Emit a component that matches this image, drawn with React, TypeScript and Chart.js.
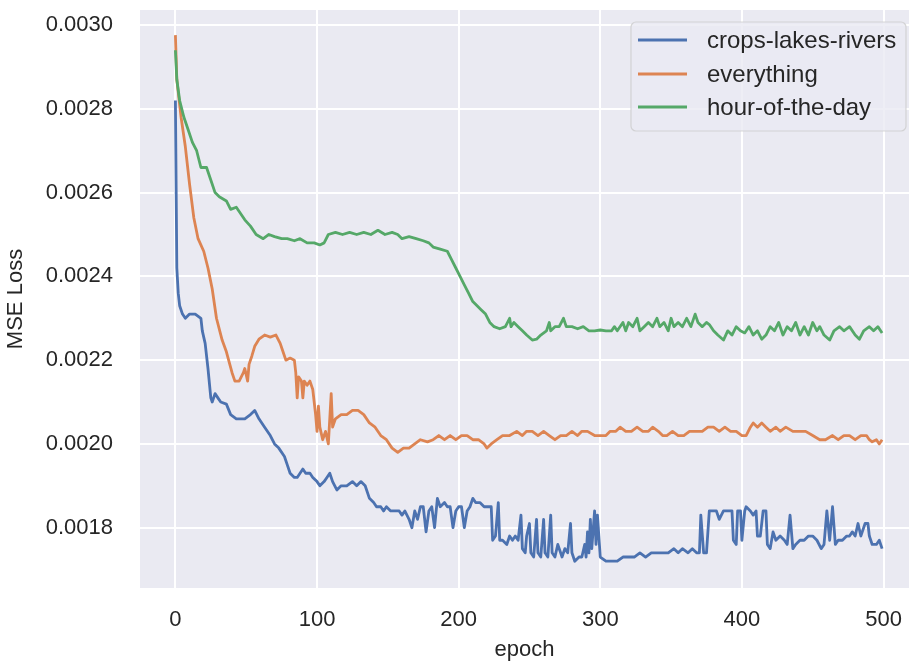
import React, { useEffect, useRef } from "react";
import Chart from "chart.js/auto";

// ---- tick labels ----
const xTicks = [0, 100, 200, 300, 400, 500];
const yTicks = [0.0018, 0.002, 0.0022, 0.0024, 0.0026, 0.0028, 0.003];

// ---- series names / colours ----
const seriesNames = ["crops-lakes-rivers", "everything", "hour-of-the-day"];
const seriesColors = ["#4C72B0", "#DD8452", "#55A868"];

// ---- crops-lakes-rivers ----
const crlEpochs = [
  0, 1, 2, 3, 5, 7, 10, 14, 18, 19, 21, 23, 25, 26, 28, 30, 32, 36, 39, 43, 46, 49, 53, 56, 59, 63, 67, 70, 73, 77,
  79, 81, 84, 86, 88, 90, 92, 95, 97, 100, 102, 105, 107, 109, 111, 114, 117, 121, 125, 128, 131, 134, 137, 140, 142,
  145, 147, 149, 152, 155, 158, 160, 162, 165, 167, 169, 171, 173, 175, 177, 179, 181, 183, 185, 187, 190, 192, 194,
  196, 198, 200, 202, 204, 206, 208, 210, 212, 215, 218, 221, 223, 224, 226, 228, 229, 231, 234, 236, 238, 240, 242,
  244, 245, 247, 248, 250, 251, 253, 255, 256, 258, 260, 261, 263, 265, 266, 268, 270, 272, 273, 275, 277, 279, 280,
  282, 285, 287, 289, 290, 291, 292, 293, 294, 296, 297, 298, 300, 304, 308, 312, 316, 320, 324, 328, 332, 336, 340,
  344, 348, 352, 355, 358, 362, 365, 368, 370, 371, 373, 375, 377, 379, 382, 384, 387, 390, 393, 394, 396, 397, 399,
  400, 402, 403, 406, 408, 410, 411, 413, 415, 417, 418, 420, 422, 424, 427, 430, 432, 434, 436, 438, 441, 444, 447,
  450, 453, 456, 458, 460, 462, 464, 466, 468, 471, 474, 476, 478, 480, 482, 484, 485, 487, 489, 490, 492, 495, 497,
  499,
];
const crlLoss = [
  0.00282, 0.00242, 0.00236, 0.00233, 0.00231, 0.0023, 0.00231, 0.00231, 0.0023, 0.00227, 0.00224, 0.00218, 0.00211,
  0.0021, 0.00212, 0.00211, 0.0021, 0.002095, 0.00207, 0.00206, 0.00206, 0.00206, 0.00207, 0.00208, 0.00206, 0.00204,
  0.00202, 0.002, 0.00199, 0.00197, 0.00195, 0.00193, 0.00192, 0.00192, 0.00193, 0.00194, 0.00193, 0.00193, 0.00192,
  0.00191, 0.0019, 0.00191, 0.00192, 0.00193, 0.00191, 0.00189, 0.0019, 0.0019, 0.00191, 0.0019, 0.00191, 0.0019,
  0.00187, 0.00186, 0.00185, 0.00185, 0.00184, 0.00185, 0.00184, 0.00184, 0.00184, 0.00183, 0.00184, 0.00182, 0.0018,
  0.00184, 0.00182, 0.00185, 0.00185, 0.00179, 0.00184, 0.00185, 0.0018, 0.00187, 0.00185, 0.00186, 0.00185, 0.00185,
  0.0018, 0.00184, 0.00185, 0.00185, 0.0018, 0.00184, 0.00185, 0.00187, 0.00186, 0.00186, 0.00185, 0.00185, 0.00185,
  0.00177, 0.00178, 0.00186, 0.00177, 0.00177, 0.00176, 0.00178, 0.00177, 0.00178, 0.00177, 0.00183, 0.00175, 0.00174,
  0.00178, 0.00181, 0.00174, 0.00173, 0.00182, 0.00174, 0.00173, 0.00182, 0.00174, 0.00173, 0.00183, 0.00174, 0.00173,
  0.00176, 0.00174, 0.00173, 0.00175, 0.00174, 0.00181, 0.00174, 0.00172, 0.00173, 0.00173, 0.00176, 0.00173, 0.00179,
  0.00174, 0.00182, 0.00175, 0.00184, 0.00176, 0.00183, 0.00173, 0.00172, 0.00172, 0.00172, 0.00173, 0.00173, 0.00173,
  0.00174, 0.00173, 0.00174, 0.00174, 0.00174, 0.00174, 0.00175, 0.00174, 0.00175, 0.00174, 0.00175, 0.00174, 0.00174,
  0.00183, 0.00174, 0.00174, 0.00184, 0.00184, 0.00184, 0.00182, 0.00184, 0.00184, 0.00184, 0.00177, 0.00176, 0.00184,
  0.00184, 0.00177, 0.00184, 0.00185, 0.00184, 0.00183, 0.00184, 0.00178, 0.00178, 0.00184, 0.00184, 0.00176, 0.00175,
  0.00179, 0.00177, 0.00178, 0.00177, 0.00176, 0.00183, 0.00175, 0.00176, 0.00177, 0.00177, 0.00178, 0.00178, 0.00177,
  0.00175, 0.00176, 0.00184, 0.00177, 0.00185, 0.00176, 0.00177, 0.00177, 0.00178, 0.00178, 0.00179, 0.00178, 0.00181,
  0.00178, 0.00179, 0.00181, 0.00181, 0.00178, 0.00176, 0.00176, 0.00177, 0.00175,
];

// ---- everything ----
const allEpochs = [
  0, 1, 2, 4, 7, 10, 13, 16, 20, 23, 26, 29, 33, 36, 40, 42, 45, 48, 49, 51, 52, 54, 56, 59, 63, 67, 71, 74, 76, 78,
  81, 84, 85, 86, 87, 89, 90, 91, 93, 95, 97, 99, 100, 101, 102, 104, 106, 108, 110, 111, 113, 117, 121, 125, 129, 133,
  137, 141, 145, 149, 153, 157, 161, 165, 169, 173, 178, 182, 186, 190, 194, 198, 202, 206, 210, 214, 218, 220, 223,
  227, 231, 236, 241, 245, 248, 252, 256, 260, 264, 268, 272, 276, 280, 284, 287, 291, 296, 300, 304, 307, 311, 314,
  318, 322, 326, 330, 334, 337, 341, 344, 347, 351, 355, 359, 363, 368, 372, 376, 380, 384, 388, 392, 396, 400, 403,
  406, 408, 411, 414, 417, 420, 424, 427, 431, 436, 441, 445, 450, 455, 459, 464, 468, 472, 476, 480, 484, 488, 490,
  492, 495, 497, 499,
];
const allLoss = [
  0.002976, 0.00287, 0.00284, 0.00278, 0.00271, 0.00262, 0.00254, 0.00249, 0.00246, 0.00242, 0.00237, 0.0023,
  0.002248, 0.00222, 0.00217, 0.00215, 0.00215, 0.00217, 0.00218, 0.00215, 0.00219, 0.00221, 0.002233, 0.00225,
  0.00226, 0.002255, 0.00226, 0.00224, 0.00222, 0.0022, 0.002205, 0.0022, 0.00217, 0.00211, 0.00216, 0.00215, 0.00211,
  0.00215, 0.00214, 0.00215, 0.00213, 0.00207, 0.00203, 0.00209, 0.00204, 0.00201, 0.00203, 0.002, 0.00212, 0.00204,
  0.00206, 0.00207, 0.00207, 0.00208, 0.00208, 0.00207, 0.00205, 0.00204, 0.00202, 0.00201, 0.00199, 0.00198, 0.00199,
  0.00199, 0.002, 0.00201, 0.002005, 0.00201, 0.00202, 0.00201, 0.00202, 0.00201, 0.00202, 0.00202, 0.00201, 0.00201,
  0.002, 0.00199, 0.002, 0.00201, 0.00202, 0.00202, 0.00203, 0.00202, 0.00203, 0.00203, 0.00202, 0.00203, 0.00202,
  0.00201, 0.00202, 0.00202, 0.00203, 0.00202, 0.00203, 0.00203, 0.00202, 0.00202, 0.00202, 0.00203, 0.00203, 0.00204,
  0.00203, 0.00203, 0.00204, 0.00203, 0.00203, 0.00204, 0.00203, 0.00202, 0.00202, 0.00203, 0.00202, 0.00202, 0.00203,
  0.00203, 0.00203, 0.00204, 0.00204, 0.00203, 0.00204, 0.00203, 0.00203, 0.00202, 0.00202, 0.00204, 0.00205, 0.00204,
  0.00205, 0.00204, 0.00203, 0.00204, 0.00203, 0.00204, 0.00203, 0.00203, 0.00203, 0.00202, 0.00201, 0.00201, 0.00202,
  0.00201, 0.00202, 0.00202, 0.00201, 0.00202, 0.00202, 0.00201, 0.002005, 0.00201, 0.002, 0.00201,
];

// ---- hour-of-the-day ----
const hodEpochs = [
  0, 1, 3, 6, 9, 12, 15, 18, 22, 25, 28, 31, 36, 39, 43, 46, 49, 53, 57, 62, 66, 70, 75, 79, 84, 88, 93, 98, 102, 105,
  108, 113, 118, 123, 128, 133, 138, 143, 148, 153, 157, 160, 165, 170, 175, 179, 182, 187, 192, 195, 198, 201, 204,
  207, 210, 213, 216, 219, 222, 225, 229, 233, 236, 237, 239, 242, 245, 248, 252, 255, 258, 262, 264, 265, 268, 271,
  274, 276, 280, 284, 288, 292, 296, 300, 304, 308, 310, 312, 316, 318, 320, 323, 326, 328, 331, 334, 337, 340, 342,
  345, 348, 350, 352, 355, 358, 361, 364, 367, 369, 372, 375, 377, 380, 383, 387, 390, 393, 396, 399, 402, 405, 408,
  411, 414, 417, 420, 423, 426, 429, 432, 435, 438, 441, 444, 447, 450, 453, 455, 458, 462, 465, 469, 472, 476, 480,
  483, 486, 490, 493, 496, 499,
];
const hodLoss = [
  0.00294, 0.00287, 0.00282, 0.00278, 0.00275, 0.00272, 0.0027, 0.00266, 0.00266, 0.00263, 0.0026, 0.00259, 0.00258,
  0.00256, 0.002565, 0.00255, 0.002535, 0.00252, 0.0025, 0.00249, 0.0025, 0.002495, 0.00249, 0.00249, 0.002485,
  0.00249, 0.00248, 0.00248, 0.002475, 0.00248, 0.0025, 0.002505, 0.0025, 0.002505, 0.0025, 0.002505, 0.0025, 0.00251,
  0.0025, 0.002505, 0.0025, 0.00249, 0.002495, 0.00249, 0.002485, 0.00248, 0.00247, 0.002465, 0.00246, 0.00244,
  0.00242, 0.0024, 0.00238, 0.00236, 0.00234, 0.00233, 0.00232, 0.00231, 0.00229, 0.00228, 0.002275, 0.00228, 0.0023,
  0.00228, 0.00229, 0.00228, 0.00227, 0.00226, 0.002248, 0.00225, 0.00226, 0.00227, 0.00229, 0.00227, 0.00228, 0.00228,
  0.0023, 0.00228, 0.00228, 0.002275, 0.00228, 0.00227, 0.00227, 0.002272, 0.00227, 0.00227, 0.00228, 0.00227, 0.00229,
  0.00227, 0.00229, 0.00228, 0.0023, 0.00227, 0.00228, 0.00229, 0.00228, 0.0023, 0.00228, 0.00229, 0.00227, 0.0023,
  0.00228, 0.00229, 0.00228, 0.0023, 0.00228, 0.00231, 0.00229, 0.00228, 0.00229, 0.002285, 0.00227, 0.00226, 0.002248,
  0.00227, 0.00226, 0.00228, 0.00227, 0.002265, 0.00228, 0.00226, 0.00227, 0.00225, 0.00226, 0.00228, 0.00227, 0.00229,
  0.00226, 0.00228, 0.00227, 0.00229, 0.00226, 0.00228, 0.00226, 0.00229, 0.00227, 0.00228, 0.00226, 0.002248, 0.00227,
  0.00228, 0.00227, 0.00228, 0.00226, 0.00225, 0.00227, 0.00228, 0.00227, 0.00228, 0.002265,
];

const FONT = '"Liberation Sans", Arial, Helvetica, sans-serif';
const TEXT = "#262626";

const plotBg = {
  id: "plotBg",
  beforeDraw(chart: any) {
    const { ctx, chartArea } = chart;
    ctx.save();
    ctx.fillStyle = "#EAEAF2";
    ctx.fillRect(chartArea.left, chartArea.top, chartArea.right - chartArea.left, chartArea.bottom - chartArea.top);
    ctx.restore();
  },
};

const boxLegend = {
  id: "boxLegend",
  afterDraw(chart: any) {
    const { ctx } = chart;
    const x = 631, y = 22, w = 275, h = 109, r = 5;
    ctx.save();
    ctx.beginPath();
    ctx.moveTo(x + r, y);
    ctx.arcTo(x + w, y, x + w, y + h, r);
    ctx.arcTo(x + w, y + h, x, y + h, r);
    ctx.arcTo(x, y + h, x, y, r);
    ctx.arcTo(x, y, x + w, y, r);
    ctx.closePath();
    ctx.fillStyle = "rgba(234,234,242,0.8)";
    ctx.fill();
    ctx.strokeStyle = "rgba(204,204,204,0.8)";
    ctx.lineWidth = 1.2;
    ctx.stroke();
    const rows = [40, 74, 107];
    seriesNames.forEach((name, i) => {
      ctx.beginPath();
      ctx.strokeStyle = seriesColors[i];
      ctx.lineWidth = 2.8;
      ctx.moveTo(638, rows[i]);
      ctx.lineTo(687, rows[i]);
      ctx.stroke();
      ctx.fillStyle = TEXT;
      ctx.font = `24px ${FONT}`;
      ctx.textAlign = "left";
      ctx.textBaseline = "middle";
      ctx.fillText(name, 707, rows[i] + 1);
    });
    ctx.restore();
  },
};

function toPoints(xs: number[], ys: number[]) {
  return xs.map((e, i) => ({ x: e, y: ys[i] }));
}

export default function App() {
  const ref = useRef<HTMLCanvasElement | null>(null);
  useEffect(() => {
    if (!ref.current) return;
    const series = [
      toPoints(crlEpochs, crlLoss),
      toPoints(allEpochs, allLoss),
      toPoints(hodEpochs, hodLoss),
    ];
    const chart = new Chart(ref.current, {
      type: "line",
      data: {
        datasets: series.map((pts, i) => ({
          label: seriesNames[i],
          data: pts,
          borderColor: seriesColors[i],
          backgroundColor: seriesColors[i],
          borderWidth: 2.8,
          pointRadius: 0,
          tension: 0,
          fill: false,
          borderJoinStyle: "round",
          order: 2 - i,
        })),
      },
      options: {
        responsive: false,
        animation: false,
        events: [],
        layout: { padding: { top: 10, right: 0, left: 0, bottom: 0 } },
        plugins: { legend: { display: false }, tooltip: { enabled: false } },
        scales: {
          x: {
            type: "linear",
            min: -25,
            max: 518,
            afterBuildTicks: (s: any) => {
              s.ticks = xTicks.map((v) => ({ value: v }));
            },
            afterFit: (s: any) => {
              s.height = 75;
            },
            grid: {
              color: "#FFFFFF",
              lineWidth: 2,
              drawTicks: true,
              tickLength: 19,
              tickColor: "rgba(0,0,0,0)",
            },
            border: { display: false },
            ticks: {
              padding: 0,
              color: TEXT,
              font: { family: FONT, size: 22 },
              maxRotation: 0,
              callback: (v: any) => String(v),
            },
            title: {
              display: true,
              text: "epoch",
              color: TEXT,
              font: { family: FONT, size: 22 },
              padding: { top: 0, bottom: 0 },
            },
          },
          y: {
            type: "linear",
            min: 0.001656,
            max: 0.003036,
            afterBuildTicks: (s: any) => {
              s.ticks = yTicks.map((v) => ({ value: v }));
            },
            afterFit: (s: any) => {
              s.width = 140;
            },
            grid: {
              color: "#FFFFFF",
              lineWidth: 2,
              drawTicks: true,
              tickLength: 27,
              tickColor: "rgba(0,0,0,0)",
            },
            border: { display: false },
            ticks: {
              padding: 0,
              color: TEXT,
              font: { family: FONT, size: 22, lineHeight: 0.8 },
              callback: (v: any) => Number(v).toFixed(4),
            },
            title: {
              display: true,
              text: "MSE Loss",
              color: TEXT,
              font: { family: FONT, size: 22 },
              padding: { top: 3, bottom: 0 },
            },
          },
        },
      },
      plugins: [plotBg, boxLegend],
    } as any);
    return () => chart.destroy();
  }, []);
  return (
    <div style={{ position: "fixed", left: 0, top: 0, width: 909, height: 663, background: "#fff" }}>
      <canvas ref={ref} width={909} height={663} style={{ width: 909, height: 663, display: "block" }} />
    </div>
  );
}
